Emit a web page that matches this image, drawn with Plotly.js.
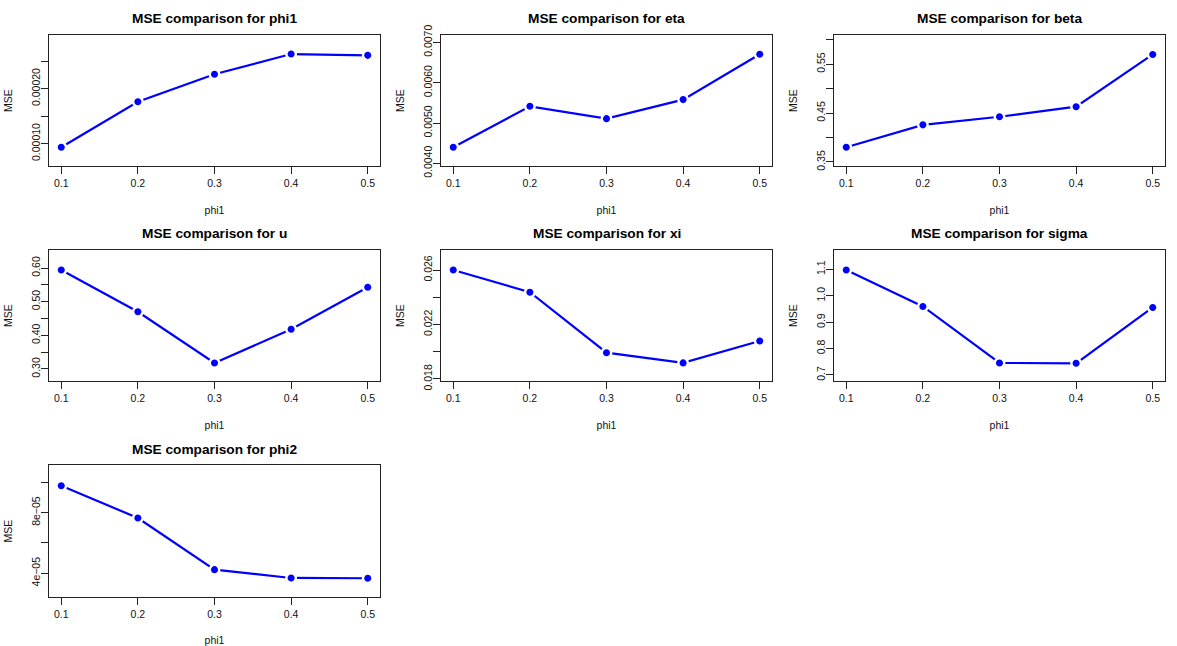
<!DOCTYPE html>
<html>
<head>
<meta charset="utf-8">
<script src="https://cdn.plot.ly/plotly-3.0.1.min.js"></script>
<style>html,body{margin:0;padding:0;background:#fff;}#chart{width:1177px;height:646px;}</style>
</head>
<body>
<div id="chart"></div>
<script>
// ---- data ----
var phi1Values = [0.1, 0.2, 0.3, 0.4, 0.5];
var xTickLabels = ["0.1", "0.2", "0.3", "0.4", "0.5"];
var paramNames = ["phi1", "eta", "beta", "u", "xi", "sigma", "phi2"];

var msePhi1  = [0.0000933, 0.0001761, 0.0002261, 0.0002628, 0.0002604];
var mseEta   = [0.004398, 0.005414, 0.005108, 0.005580, 0.006704];
var mseBeta  = [0.3800, 0.4259, 0.4425, 0.4630, 0.5698];
var mseU     = [0.594, 0.470, 0.318, 0.418, 0.543];
var mseXi    = [0.02600, 0.02437, 0.01993, 0.01918, 0.02079];
var mseSigma = [1.0975, 0.9595, 0.7456, 0.7443, 0.9557];
var msePhi2  = [0.0000978, 0.0000765, 0.0000424, 0.0000369, 0.0000367];

var yTickValsPhi1 = [0.00010, 0.00015, 0.00020, 0.00025];
var yTickTextPhi1 = ["0.00010", "", "0.00020", ""];
var yTickValsEta = [0.0040, 0.0050, 0.0060, 0.0070];
var yTickTextEta = ["0.0040", "0.0050", "0.0060", "0.0070"];
var yTickValsBeta = [0.35, 0.40, 0.45, 0.50, 0.55, 0.60];
var yTickTextBeta = ["0.35", "", "0.45", "", "0.55", ""];
var yTickValsU = [0.30, 0.35, 0.40, 0.45, 0.50, 0.55, 0.60];
var yTickTextU = ["0.30", "", "0.40", "", "0.50", "", "0.60"];
var yTickValsXi = [0.018, 0.020, 0.022, 0.024, 0.026];
var yTickTextXi = ["0.018", "", "0.022", "", "0.026"];
var yTickValsSigma = [0.7, 0.8, 0.9, 1.0, 1.1];
var yTickTextSigma = ["0.7", "0.8", "0.9", "1.0", "1.1"];
var yTickValsPhi2 = [0.00004, 0.00006, 0.00008, 0.00010];
var yTickTextPhi2 = ["4e\u221205", "", "8e\u221205", ""];

var seriesList = [msePhi1, mseEta, mseBeta, mseU, mseXi, mseSigma, msePhi2];
var tickValsList = [yTickValsPhi1, yTickValsEta, yTickValsBeta, yTickValsU, yTickValsXi, yTickValsSigma, yTickValsPhi2];
var tickTextList = [yTickTextPhi1, yTickTextEta, yTickTextBeta, yTickTextU, yTickTextXi, yTickTextSigma, yTickTextPhi2];

// ---- layout settings ----
var yRanges = [
  [0.0000593, 0.0002974],
  [0.003934, 0.007182],
  [0.3418, 0.6095],
  [0.2643, 0.6536],
  [0.01785, 0.02747],
  [0.6772, 1.1734],
  [0.00002434, 0.00011147]
];
var W = 1177, H = 646;
var colPx = [[49, 380], [441, 772], [834, 1165]];
var rowPx = [[35, 166], [250, 381], [465, 597]];
var titleY = [18.3, 233.3, 449];

var font = "Liberation Sans, Arial, Helvetica, sans-serif";
var traces = [];
var layout = {
  width: W, height: H,
  margin: {l: 0, r: 0, t: 0, b: 0},
  paper_bgcolor: "#ffffff", plot_bgcolor: "#ffffff",
  showlegend: false,
  font: {family: font, size: 10, color: "#000000"},
  annotations: []
};

for (var i = 0; i < seriesList.length; i++) {
  var r = Math.floor(i / 3), c = i % 3;
  var n = i + 1;
  var xa = "x" + (n === 1 ? "" : n), ya = "y" + (n === 1 ? "" : n);
  traces.push({
    type: "scatter", mode: "lines+markers",
    x: phi1Values, y: seriesList[i],
    xaxis: xa, yaxis: ya,
    line: {color: "#0000ff", width: 2.2},
    marker: {color: "#0000ff", size: 9.5, line: {color: "#ffffff", width: 2.4}},
    hoverinfo: "x+y"
  });
  var xKey = "xaxis" + (n === 1 ? "" : n), yKey = "yaxis" + (n === 1 ? "" : n);
  layout[xKey] = {
    domain: [colPx[c][0] / W, colPx[c][1] / W],
    anchor: ya,
    range: [0.084, 0.516],
    tickvals: phi1Values, ticktext: xTickLabels,
    ticks: "outside", ticklen: 7, tickwidth: 1, tickcolor: "#222",
    showgrid: false, zeroline: false,
    showline: true, mirror: true, linecolor: "#222", linewidth: 1,
    tickfont: {family: font, size: 10.5, color: "#111"},
    title: {text: "phi1", font: {family: font, size: 10.5, color: "#111"}, standoff: 19},
    fixedrange: true
  };
  layout[yKey] = {
    domain: [1 - rowPx[r][1] / H, 1 - rowPx[r][0] / H],
    anchor: xa,
    range: yRanges[i],
    tickvals: tickValsList[i], ticktext: tickTextList[i],
    tickangle: -90,
    ticklabelstandoff: -3,
    ticks: "outside", ticklen: 7, tickwidth: 1, tickcolor: "#222",
    showgrid: false, zeroline: false,
    showline: true, mirror: true, linecolor: "#222", linewidth: 1,
    tickfont: {family: font, size: 10.5, color: "#111"},
    title: {text: "MSE", font: {family: font, size: 10.5, color: "#111"}, standoff: 15},
    fixedrange: true
  };
  layout.annotations.push({
    text: "<b>MSE comparison for " + paramNames[i] + "</b>",
    xref: "paper", yref: "paper",
    x: (colPx[c][0] + colPx[c][1]) / 2 / W,
    y: 1 - titleY[r] / H,
    xanchor: "center", yanchor: "middle",
    showarrow: false,
    font: {family: font, size: 13.7, color: "#000"}
  });
}

Plotly.newPlot("chart", traces, layout, {displayModeBar: false, staticPlot: true});
</script>
</body>
</html>
